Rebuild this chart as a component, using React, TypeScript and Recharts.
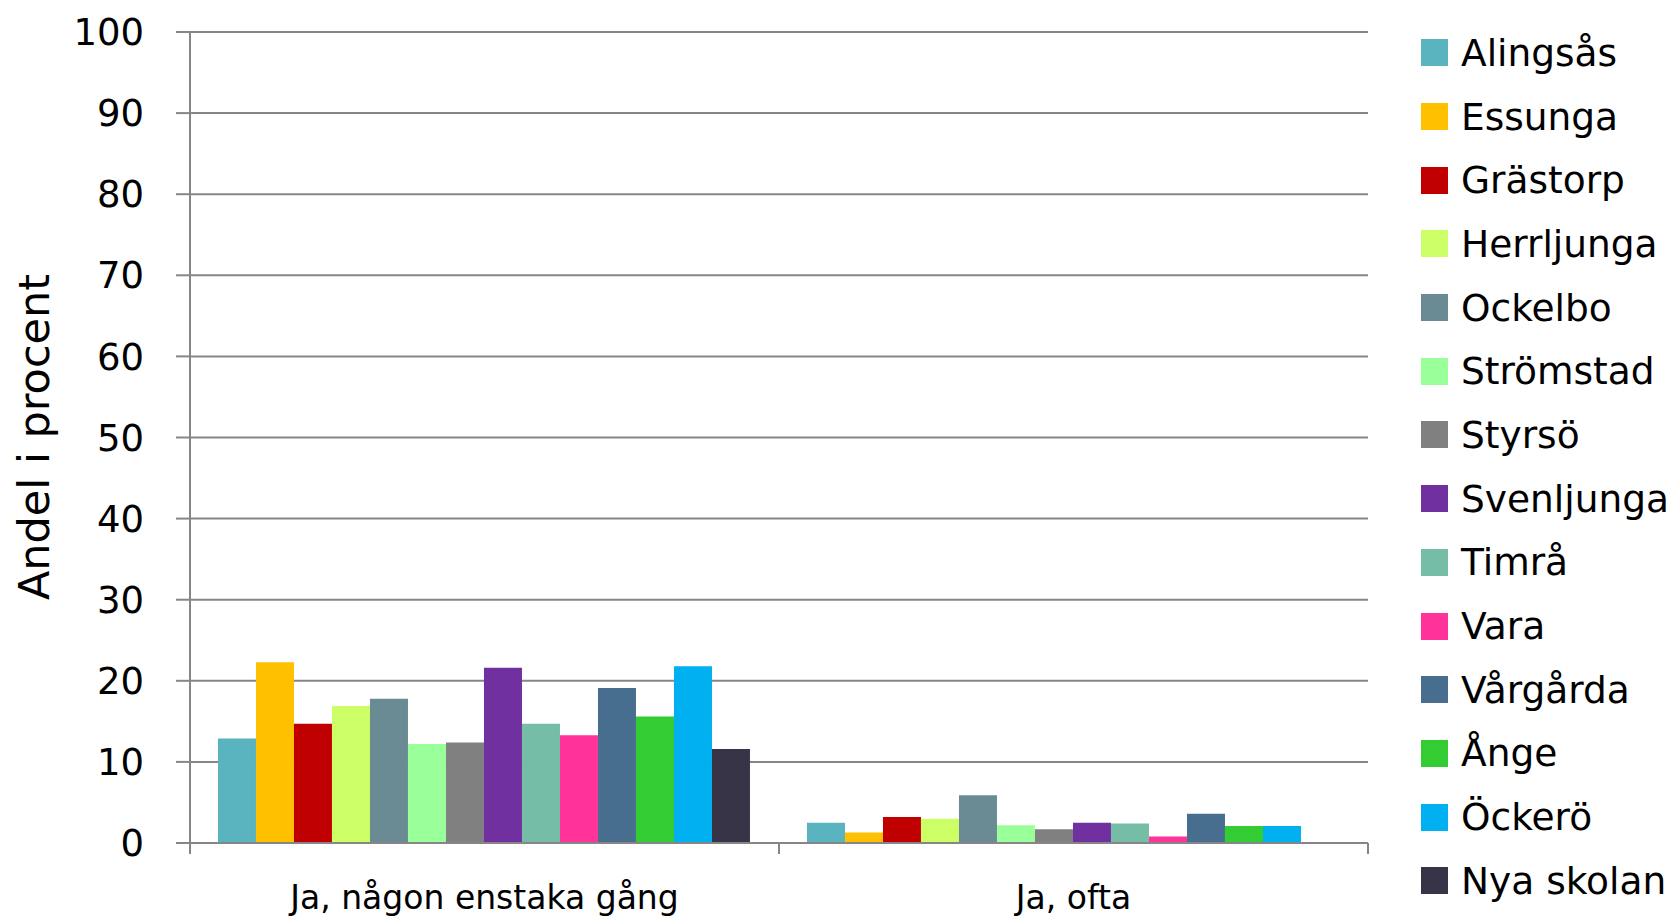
import React from 'react';
import { BarChart, Bar, XAxis, YAxis, CartesianGrid, Legend } from 'recharts';

const categories = ['Ja, någon enstaka gång', 'Ja, ofta'];

const schools = [
  'Alingsås', 'Essunga', 'Grästorp', 'Herrljunga', 'Ockelbo', 'Strömstad', 'Styrsö',
  'Svenljunga', 'Timrå', 'Vara', 'Vårgårda', 'Ånge', 'Öckerö', 'Nya skolan',
];

const colors = [
  '#5AB4C0', '#FFC000', '#C00000', '#CCFF66', '#6A8B93', '#99FF99', '#808080',
  '#7030A0', '#76BDA8', '#FF3399', '#476E8E', '#33CC33', '#00B0F0', '#363446',
];

// values per school: [någon enstaka gång, ofta]
const alingsas = [12.9, 2.5];
const essunga = [22.3, 1.3];
const grastorp = [14.7, 3.2];
const herrljunga = [16.9, 3.0];
const ockelbo = [17.8, 5.9];
const stromstad = [12.2, 2.2];
const styrso = [12.4, 1.7];
const svenljunga = [21.6, 2.5];
const timra = [14.7, 2.4];
const vara = [13.3, 0.8];
const vargarda = [19.1, 3.6];
const ange = [15.6, 2.1];
const ockero = [21.8, 2.1];
const nyaSkolan = [11.6, null];

const seriesValues = [
  alingsas, essunga, grastorp, herrljunga, ockelbo, stromstad, styrso,
  svenljunga, timra, vara, vargarda, ange, ockero, nyaSkolan,
];

const yTicks = [0, 10, 20, 30, 40, 50, 60, 70, 80, 90, 100];

const chartData = categories.map((name, ci) => {
  const row: Record<string, any> = { name };
  schools.forEach((s, si) => {
    row[s] = seriesValues[si][ci];
  });
  return row;
});

const W = 1677;
const H = 918;
const PLOT_LEFT = 190;
const PLOT_RIGHT = 1368;
const BAND = (PLOT_RIGHT - PLOT_LEFT) / categories.length;
const GRID = '#868686';
const FONT = '"DejaVu Sans", sans-serif';

const CategoryTick = (props: any) => {
  const { x, y, payload } = props;
  return (
    <g>
      <line x1={x - BAND / 2} y1={y} x2={x - BAND / 2} y2={y + 11} stroke={GRID} strokeWidth={2} />
      <line x1={x + BAND / 2} y1={y} x2={x + BAND / 2} y2={y + 11} stroke={GRID} strokeWidth={2} />
      <text x={x} y={y + 66} textAnchor="middle" fontSize={33} fontFamily={FONT} fill="#000">
        {payload.value}
      </text>
    </g>
  );
};

const renderLegend = () => (
  <div style={{ fontFamily: FONT, fontSize: 37.5, color: '#000' }}>
    {schools.map((s, i) => (
      <div key={s} style={{ height: 63.7, display: 'flex', alignItems: 'center', whiteSpace: 'nowrap' }}>
        <span style={{ display: 'inline-block', width: 27, height: 27, background: colors[i], marginRight: 13 }} />
        <span>{s}</span>
      </div>
    ))}
  </div>
);

export default function App() {
  return (
    <div style={{ position: 'relative', width: W, height: H, background: '#fff' }}>
      <style>{`body{margin:0}`}</style>
      <BarChart
        width={W}
        height={H}
        data={chartData}
        margin={{ top: 32, right: W - PLOT_RIGHT, left: 0, bottom: 0 }}
        barCategoryGap="4.75%"
        barGap={0}
      >
        <CartesianGrid vertical={false} stroke={GRID} strokeWidth={2} />
        <XAxis
          dataKey="name"
          height={75}
          axisLine={{ stroke: GRID, strokeWidth: 2 }}
          tickLine={false}
          tickSize={0}
          tickMargin={0}
          interval={0}
          tick={<CategoryTick />}
        />
        <YAxis
          width={PLOT_LEFT}
          domain={[0, 100]}
          ticks={yTicks}
          interval={0}
          axisLine={{ stroke: GRID, strokeWidth: 2 }}
          tickLine={{ stroke: GRID, strokeWidth: 2 }}
          tickSize={14}
          tickMargin={32}
          tick={{ fontSize: 37, fontFamily: FONT, fill: '#000' }}
        />
        <Legend
          layout="vertical"
          align="center"
          verticalAlign="middle"
          content={renderLegend}
          wrapperStyle={{ left: 1421, top: 21, width: 256 }}
        />
        {schools.map((s, i) => (
          <Bar key={s} dataKey={s} fill={colors[i]} isAnimationActive={false} />
        ))}
      </BarChart>
      <div
        style={{
          position: 'absolute',
          left: 34,
          top: 437,
          transform: 'translate(-50%, -50%) rotate(-90deg)',
          fontFamily: FONT,
          fontSize: 43,
          whiteSpace: 'nowrap',
          color: '#000',
        }}
      >
        Andel i procent
      </div>
    </div>
  );
}
